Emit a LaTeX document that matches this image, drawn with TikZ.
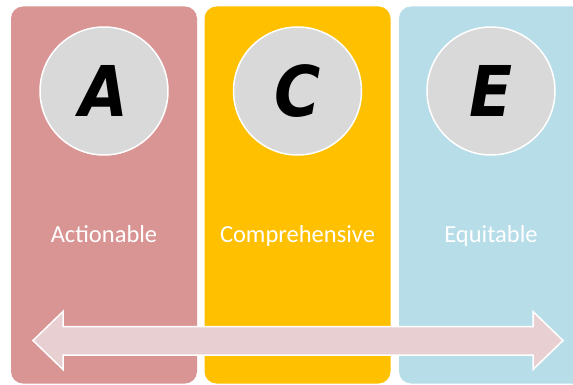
\documentclass[tikz,border=0pt]{standalone}
\usepackage{fontspec}
\setmainfont{Carlito}
\newfontfamily\handfont{DejaVu Sans Condensed}
\definecolor{actred}{HTML}{D99594}
\definecolor{compyellow}{HTML}{FFC000}
\definecolor{equiblue}{HTML}{B7DDE8}
\definecolor{discgray}{HTML}{D9D9D9}
\definecolor{barpink}{HTML}{E8D0D2}
\tikzset{
    pillar/.style={rectangle, rounded corners=12pt, minimum width=186pt, minimum height=377pt, inner sep=0pt},
    disc/.style={circle, draw=white, line width=1.5pt, fill=discgray, minimum size=128pt, inner sep=0pt, font=\handfont\bfseries\itshape\fontsize{70}{70}\selectfont},
    word/.style={text=white, anchor=base, font=\fontsize{24.5}{28}\selectfont}
}
\begin{document}
\begin{tikzpicture}[x=1pt, y=-1pt]
    \useasboundingbox (0,0) rectangle (573,385);
    \clip (0,0) rectangle (573,385);
    \fill[white] (0,0) rectangle (573,385);
    % Columns
    \node [pillar, fill=actred] (actcol) at (104,195) {};
    \node [pillar, fill=compyellow] (compcol) at (297.5,195) {};
    \node [pillar, fill=equiblue] (equicol) at (492,195) {};

    % Letters
    \node [disc] (a) at (104,91) {A};
    \node [disc] (c) at (297.5,91) {C};
    \node [disc] (e) at (491,91) {E};

    % Names
    \node [word] (actionable) at (104,242) {Actionable};
    \node [word] (comprehensive) at (297.5,242) {Comprehensive};
    \node [word] (equitable) at (491,242) {Equitable};

    % Two-way arrow
    \draw [draw=white, line width=1.5pt, fill=barpink, line join=miter]
        (33,340.5) -- (63,311.5) -- (63,326.5) -- (533,326.5) -- (533,311.5)
        -- (563,340.5) -- (533,369.5) -- (533,355) -- (63,355) -- (63,369.5) -- cycle;
\end{tikzpicture}
\end{document}
